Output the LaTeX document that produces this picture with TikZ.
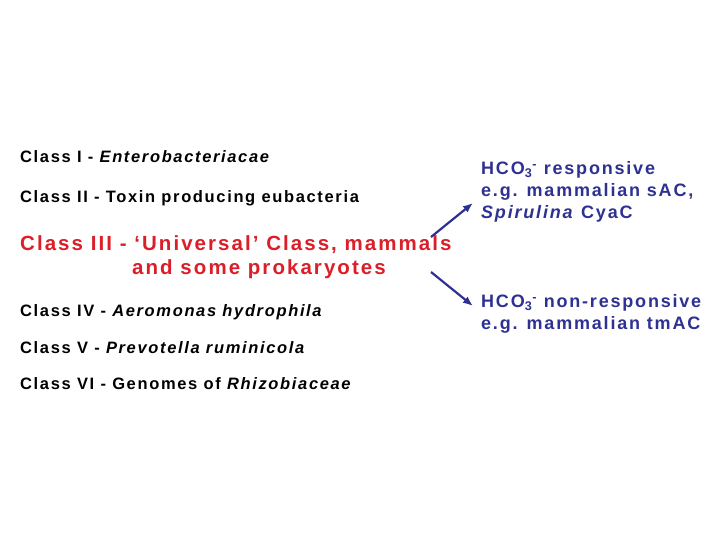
\documentclass[tikz,border=0pt]{standalone}
\usepackage{fontspec}
\setmainfont[LetterSpace=10]{Liberation Sans}
\usetikzlibrary{arrows.meta}
\definecolor{navy}{RGB}{46,49,146}
\definecolor{classred}{RGB}{220,30,40}
\newcommand{\bicarb}{HCO\textsubscript{3}\textsuperscript{-}}
\begin{document}
\begin{tikzpicture}[x=1pt,y=-1pt,
  every node/.style={inner sep=0pt,anchor=west,font=\bfseries},
  cls/.style={font=\fontsize{16.5}{19}\selectfont\bfseries},
  red3/.style={font=\fontsize{20.5}{24}\selectfont\bfseries,text=classred},
  resp/.style={font=\fontsize{18}{22}\selectfont\bfseries,text=navy,align=left},
  link/.style={navy,line width=2.2pt,-{Latex[length=10pt,width=8pt]}}]
\useasboundingbox (0,0) rectangle (720,540);
\node[cls] (c1) at (20,157) {Class I - \textit{Enterobacteriacae}};
\node[cls] (c2) at (20,198) {Class II - Toxin producing eubacteria};
\node[red3] (c3) at (20,245) {Class III - `Universal' Class, mammals};
\node[red3] (c3b) at (132,269) {and some prokaryotes};
\node[cls] (c4) at (20,312) {Class IV - \textit{Aeromonas hydrophila}};
\node[cls] (c5) at (20,348) {Class V - \textit{Prevotella ruminicola}};
\node[cls] (c6) at (20,384) {Class VI - Genomes of \textit{Rhizobiaceae}};
% bicarbonate response
\node[resp] (r1) at (481,192) {\bicarb{} responsive\\e.g. mammalian sAC,\\\textit{Spirulina} CyaC};
\node[resp] (r2) at (481,314) {\bicarb{} non-responsive\\e.g. mammalian tmAC};
\coordinate (s1) at (431,237);
\coordinate (s2) at (431,272);
\coordinate (e1) at (473,203);
\coordinate (e2) at (473,306);
\draw[link] (s1) -- (e1);
\draw[link] (s2) -- (e2);
\end{tikzpicture}
\end{document}
